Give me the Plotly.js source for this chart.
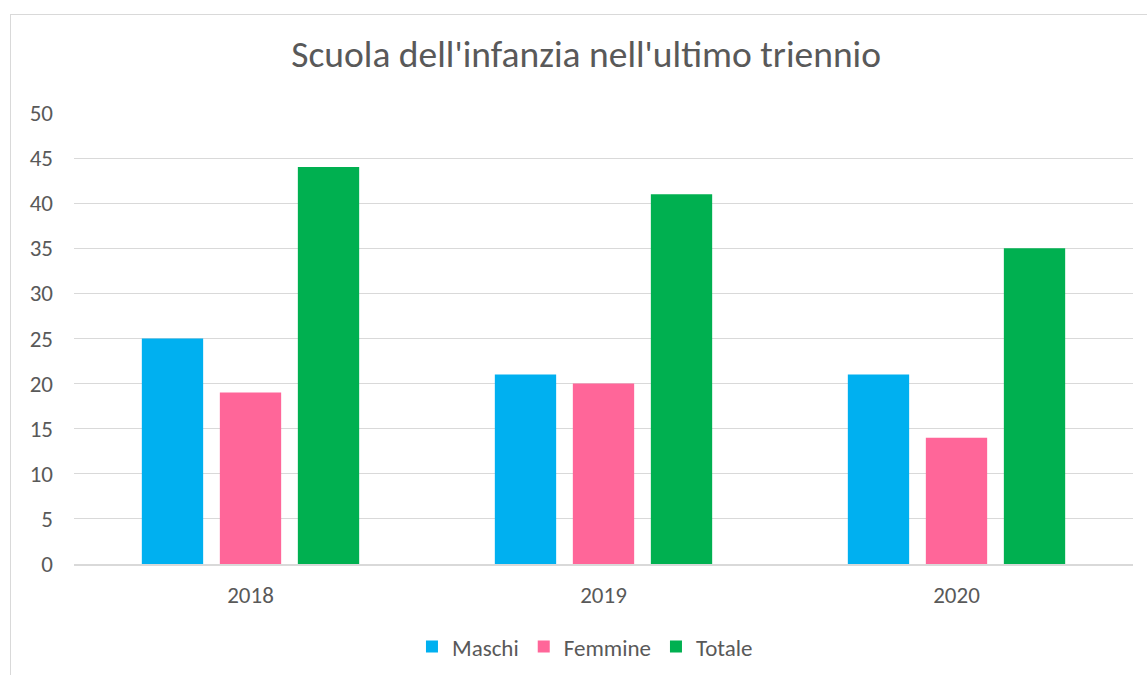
<!DOCTYPE html>
<html><head><meta charset="utf-8">
<script src="https://cdn.plot.ly/plotly-3.0.1.min.js"></script>
<style>
html,body{margin:0;padding:0;background:#fff;}
#wrap{position:relative;width:1147px;height:675px;overflow:hidden;}
#chart{width:1147px;height:675px;}
#frame{position:absolute;left:10px;top:14px;width:1160px;height:700px;border:1px solid #d9d9d9;pointer-events:none;box-sizing:border-box;}
</style></head>
<body>
<div id="wrap"><div id="chart"></div><div id="frame"></div></div>
<script>
const categories = ['2018', '2019', '2020'];
const maschi = [25, 21, 21];
const femmine = [19, 20, 14];
const totale = [44, 41, 35];
const seriesNames = ['Maschi', 'Femmine', 'Totale'];
const yTicks = [0, 5, 10, 15, 20, 25, 30, 35, 40, 45, 50];

const colors = ['#00B0F0', '#FF6699', '#00B050'];
const font = 'Calibri, Carlito, "Noto Sans", "Open Sans", sans-serif';
const values = [maschi, femmine, totale];
const data = values.map((v, i) => ({
  type: 'bar', x: categories, y: v, name: seriesNames[i],
  marker: {color: colors[i]}, hoverinfo: 'x+y+name'
}));

const layout = {
  width: 1147, height: 675,
  margin: {l: 74, r: 14, t: 113, b: 111},
  paper_bgcolor: '#ffffff', plot_bgcolor: '#ffffff',
  title: {text: "Scuola dell'infanzia nell'ultimo triennio", font: {family: font, size: 37.5, color: '#595959'},
          xref: 'container', x: 0.511, xanchor: 'center', yref: 'container', y: 0.92, yanchor: 'middle'},
  barmode: 'group', bargap: 0.337, bargroupgap: 0.214,
  xaxis: {type: 'category', showgrid: false, showline: true, linecolor: '#d9d9d9', linewidth: 2,
          ticks: '', tickfont: {family: font, size: 23, color: '#595959'}, ticklabelstandoff: 9, fixedrange: true},
  yaxis: {range: [0, 50], tickvals: yTicks, ticktext: yTicks.map(String), showgrid: true, gridcolor: '#d9d9d9', gridwidth: 1,
          zeroline: false, showline: false, ticks: '', tickfont: {family: font, size: 23, color: '#595959'},
          ticklabelstandoff: 20, fixedrange: true},
  showlegend: true,
  legend: {orientation: 'h', x: 0.51, xanchor: 'center', xref: 'container', y: 0.042, yref: 'container', yanchor: 'middle',
           font: {family: font, size: 23, color: '#595959'}, itemwidth: 30, traceorder: 'normal'}
};
Plotly.newPlot('chart', data, layout, {displayModeBar: false, staticPlot: false});
</script>
</body></html>
